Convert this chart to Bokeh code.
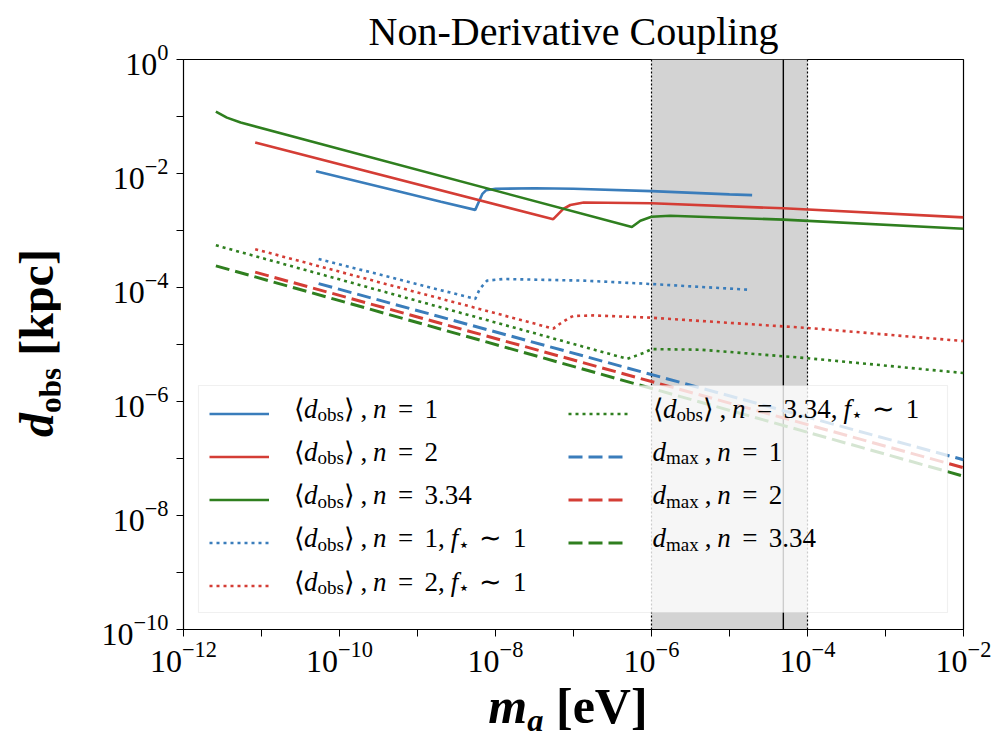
from bokeh.plotting import figure
from bokeh.layouts import row, column
from bokeh.models import FixedTicker, BoxAnnotation, Span, Label, Legend, LegendItem, Div
from bokeh.embed import file_html
from bokeh.resources import INLINE

# ---------------- data ----------------
x_obs_n1 = [5.0e-11, 5.0e-10, 2.0e-9, 5.5e-9, 6.8e-9, 7.6e-9, 1.0e-8, 3.2e-8, 1.0e-7, 1.0e-6, 1.0e-5, 1.95e-5]
y_obs_n1 = [1.10e-2, 5.1e-3, 3.2e-3, 2.3e-3, 4.4e-3, 5.1e-3, 5.4e-3, 5.5e-3, 5.4e-3, 4.9e-3, 4.3e-3, 4.17e-3]

x_obs_n2 = [8.3e-12, 5.5e-8, 7.4e-8, 9.1e-8, 1.35e-7, 1.0e-6, 4.9e-5, 1.0e-2]
y_obs_n2 = [3.5e-2, 1.58e-3, 2.4e-3, 2.8e-3, 3.1e-3, 3.0e-3, 2.45e-3, 1.7e-3]

x_obs_n3 = [2.6e-12, 3.6e-12, 5.4e-12, 5.6e-7, 7.2e-7, 1.0e-6, 1.74e-6, 4.9e-5, 1.0e-2]
y_obs_n3 = [0.122, 0.0955, 0.0782, 1.15e-3, 1.48e-3, 1.74e-3, 1.82e-3, 1.55e-3, 1.07e-3]

x_fs_n1 = [5.4e-11, 5.5e-9, 6.3e-9, 7.8e-9, 1.26e-8, 1.35e-7, 1.0e-6, 1.86e-5]
y_fs_n1 = [3.16e-4, 6.3e-5, 9.5e-5, 1.32e-4, 1.41e-4, 1.32e-4, 1.15e-4, 9.1e-5]

x_fs_n2 = [8.3e-12, 5.5e-8, 6.8e-8, 9.1e-8, 1.0e-7, 1.8e-7, 1.0e-6, 1.0e-4, 1.0e-2]
y_fs_n2 = [4.7e-4, 1.9e-5, 2.34e-5, 3.0e-5, 3.16e-5, 3.24e-5, 2.95e-5, 1.95e-5, 1.15e-5]

x_fs_n3 = [2.6e-12, 4.9e-7, 7.9e-7, 1.0e-6, 4.3e-6, 1.0e-4, 1.0e-2]
y_fs_n3 = [5.5e-4, 5.6e-6, 7.1e-6, 8.3e-6, 8.1e-6, 5.75e-6, 3.16e-6]

x_max_n1 = [5.4e-11, 1.0e-2]
y_max_n1 = [1.17e-4, 9.5e-8]
x_max_n2 = [8.3e-12, 1.0e-2]
y_max_n2 = [1.86e-4, 6.9e-8]
x_max_n3 = [2.6e-12, 1.0e-2]
y_max_n3 = [2.4e-4, 4.9e-8]

band_lo, band_hi = 1.0e-6, 1.0e-4
vline_x = 4.9e-5

x_major = [1e-12, 1e-10, 1e-8, 1e-6, 1e-4, 1e-2]
x_minor = [1e-11, 1e-9, 1e-7, 1e-5, 1e-3]
y_major = [1e-10, 1e-8, 1e-6, 1e-4, 1e-2, 1e0]
y_minor = [1e-9, 1e-7, 1e-5, 1e-3, 1e-1]

title_text = "Non-Derivative Coupling"
x_label_html = "<i>m</i><sub><i>a</i></sub> [eV]"
y_label_html = "<i>d</i><sub>obs</sub> [kpc]"

BLUE, RED, GREEN = "#3a7dbb", "#d43d35", "#2f7f1f"

# legend entries as pieces; kind r=roman, i=italic, s=subscript
def obs_entry(n, fstar=False):
    pcs = [("⟨", "r"), ("d", "i"), ("obs", "s"), ("⟩ , ", "r"), ("n", "i"), (" = " + n, "r")]
    if fstar:
        pcs += [(", ", "r"), ("f", "i"), ("⋆", "s"), (" ∼ 1", "r")]
    return pcs

def max_entry(n):
    return [("d", "i"), ("max", "s"), (" , ", "r"), ("n", "i"), (" = " + n, "r")]

legend_entries = [obs_entry("1"), obs_entry("2"), obs_entry("3.34"),
                  obs_entry("1", True), obs_entry("2", True), obs_entry("3.34", True),
                  max_entry("1"), max_entry("2"), max_entry("3.34")]

# ---------------- geometry ----------------
FONT = "Liberation Serif"
YW = 60                      # width of the y-label strip
FRAME_W, FRAME_H = 780, 572
BL, BR, BT, BB = 123, 35, 57, 50
PW, PH = BL + FRAME_W + BR, BT + FRAME_H + BB
XH = 51                      # height of the x-label strip

p = figure(width=PW, height=PH, x_axis_type="log", y_axis_type="log",
           x_range=(1e-12, 1e-2), y_range=(1e-10, 1.0),
           output_backend="svg", toolbar_location=None,
           min_border_left=BL, min_border_right=BR, min_border_top=BT, min_border_bottom=BB)
p.grid.visible = False
p.outline_line_color = "black"
p.outline_line_width = 1.2
p.background_fill_color = "white"
p.border_fill_color = "white"

p.title.text = title_text
p.title.align = "center"
p.title.text_font = FONT
p.title.text_font_size = "40px"
p.title.text_font_style = "normal"
p.title.text_color = "black"
p.title.standoff = 12

p.xaxis.ticker = FixedTicker(ticks=x_major, minor_ticks=x_minor)
p.yaxis.ticker = FixedTicker(ticks=y_major, minor_ticks=y_minor)
for ax in (p.xaxis, p.yaxis):
    ax.major_label_text_font = FONT
    ax.major_label_text_font_size = "32px"
    ax.major_label_text_color = "black"
    ax.axis_line_color = "black"
    ax.major_tick_line_color = "black"
    ax.minor_tick_line_color = "black"
    ax.major_tick_in = 0
    ax.major_tick_out = 7
    ax.minor_tick_in = 0
    ax.minor_tick_out = 7
p.xaxis.major_label_standoff = 5
p.yaxis.major_label_standoff = 8

# shaded band + vertical lines
p.add_layout(BoxAnnotation(left=band_lo, right=band_hi, fill_color="#d3d3d3", fill_alpha=1.0,
                           line_alpha=0, level="underlay"))
for xv in (band_lo, band_hi):
    p.add_layout(Span(location=xv, dimension="height", line_color="black", line_width=1.2,
                      line_dash="2 2", level="underlay"))
p.add_layout(Span(location=vline_x, dimension="height", line_color="black", line_width=1.4,
                  level="underlay"))

SOLID_W, DOT_W, DASH_W = 2.6, 2.6, 3.0
DOT, DASH = "3 4", "14 6"
r1 = p.line(x_obs_n1, y_obs_n1, line_color=BLUE, line_width=SOLID_W)
r2 = p.line(x_obs_n2, y_obs_n2, line_color=RED, line_width=SOLID_W)
r3 = p.line(x_obs_n3, y_obs_n3, line_color=GREEN, line_width=SOLID_W)
r4 = p.line(x_fs_n1, y_fs_n1, line_color=BLUE, line_width=DOT_W, line_dash=DOT)
r5 = p.line(x_fs_n2, y_fs_n2, line_color=RED, line_width=DOT_W, line_dash=DOT)
r6 = p.line(x_fs_n3, y_fs_n3, line_color=GREEN, line_width=DOT_W, line_dash=DOT)
r7 = p.line(x_max_n1, y_max_n1, line_color=BLUE, line_width=DASH_W, line_dash=DASH)
r8 = p.line(x_max_n2, y_max_n2, line_color=RED, line_width=DASH_W, line_dash=DASH)
r9 = p.line(x_max_n3, y_max_n3, line_color=GREEN, line_width=DASH_W, line_dash=DASH)
renderers = [r1, r2, r3, r4, r5, r6, r7, r8, r9]

# ---------------- legend ----------------
box_l, box_r, box_t, box_b = 15, 764, 244, 17          # frame px (bottom-up)
p.add_layout(BoxAnnotation(left=box_l, right=box_r, top=box_t, bottom=box_b,
                           left_units="screen", right_units="screen",
                           top_units="screen", bottom_units="screen",
                           fill_color="white", fill_alpha=0.8,
                           line_color="#cccccc", line_width=1.2))

ROW_H = 43.3
COL_W = 359
GLYPH_W = 60
first_row_center = 220                                  # frame px from bottom
legend_top = first_row_center - 4 + 21.5
legend = Legend(items=[LegendItem(label=" ", renderers=[r]) for r in renderers],
                ncols=2, location=(26, legend_top - 5 * 43),
                glyph_width=GLYPH_W, glyph_height=43, label_height=43,
                label_width=COL_W - GLYPH_W, label_standoff=0, spacing=0,
                padding=0, margin=0, background_fill_alpha=0, border_line_alpha=0,
                label_text_font_size="1px")
p.add_layout(legend)

# approximate advance widths (em) for Liberation Serif (+ fallbacks)
W_R = {",": .25, ".": .25, "=": .564, "o": .5, "b": .5, "s": .389, "m": .778,
       "a": .444, "x": .5, "⟨": .39, "⟩": .39, "∼": .84, "⋆": .5}
W_I = {"d": .5, "n": .5, "f": .278}
RELATIONS = ("=", "∼")

def space_w(prev_ch, next_ch):
    return 0.42 if (prev_ch in RELATIONS or next_ch in RELATIONS) else 0.22

MAIN, SUB, SUB_DROP = 27, 19, 6
for k, pcs in enumerate(legend_entries):
    col, rw = divmod(k, 5)
    x = 110 + col * COL_W
    y = first_row_center - rw * ROW_H + 1
    for t, kind in pcs:
        if kind == "s":
            size, style, yy, tab = SUB, "normal", y - SUB_DROP, W_R
        elif kind == "i":
            size, style, yy, tab = MAIN, "italic", y, W_I
        else:
            size, style, yy, tab = MAIN, "normal", y, W_R
        words = t.split(" ")
        for wi, wd in enumerate(words):
            if wi > 0:
                prev_ch = words[wi - 1][-1:] if words[wi - 1] else ""
                next_ch = wd[:1]
                x += space_w(prev_ch, next_ch) * size
            if wd:
                p.add_layout(Label(x=x, y=yy, x_units="screen", y_units="screen", text=wd,
                                   text_font=FONT, text_font_size=f"{size}px",
                                   text_font_style=style, text_color="black",
                                   text_align="left", text_baseline="alphabetic"))
                x += sum(tab.get(ch, 0.5) for ch in wd) * size

# ---------------- axis labels (rich text) ----------------
LBL_STYLE = ("font-family:'Liberation Serif',serif;font-weight:bold;"
             "line-height:1;color:black;white-space:nowrap;")
SUB_CSS = "<style>sub{font-size:0.65em;vertical-align:-0.25em;line-height:0;}</style>"

ydiv = Div(text=(SUB_CSS + f'<div style="position:relative;width:{YW}px;height:{PH + XH}px;">'
                 f'<div style="position:absolute;left:37px;top:{BT + FRAME_H / 2}px;font-size:48px;'
                 f'transform:translate(-50%,-50%) rotate(-90deg);{LBL_STYLE}">'
                 f'{y_label_html}</div></div>'),
           width=YW, height=PH + XH, margin=0)
xdiv = Div(text=(SUB_CSS + f'<div style="position:relative;width:{PW}px;height:{XH}px;">'
                 f'<div style="position:absolute;left:{BL + FRAME_W / 2 - 5}px;top:2px;font-size:50px;'
                 f'transform:translateX(-50%);{LBL_STYLE}">'
                 f'{x_label_html}</div></div>'),
           width=PW, height=XH, margin=0)

layout = row(ydiv, column(p, xdiv, spacing=0), spacing=0)
open("out.html", "w").write(file_html(layout, INLINE))
